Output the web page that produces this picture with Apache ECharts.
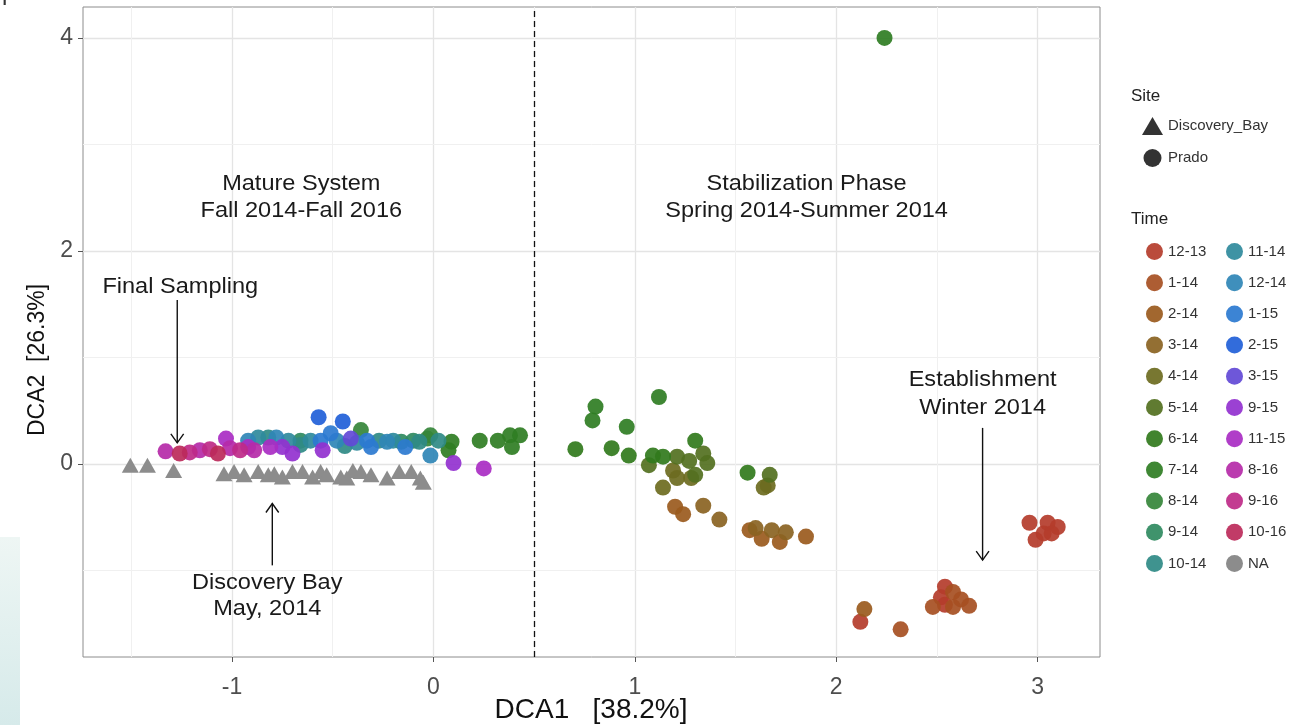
<!DOCTYPE html>
<html>
<head>
<meta charset="utf-8">
<script src="https://cdn.jsdelivr.net/npm/echarts@6/dist/echarts.min.js"></script>
<style>
  html, body { margin: 0; padding: 0; background: #ffffff; }
  #chart { width: 1297px; height: 725px; }
</style>
</head>
<body>
<div id="chart"></div>
<script>
// Sampling-time levels and their colours
const timeLevels = ['12-13', '1-14', '2-14', '3-14', '4-14', '5-14', '6-14', '7-14', '8-14', '9-14', '10-14',
                    '11-14', '12-14', '1-15', '2-15', '3-15', '9-15', '11-15', '8-16', '9-16', '10-16', 'NA'];
const timeColors = ['#b43c2b', '#a64f22', '#9a5a1d', '#8a6322', '#6d6b1f', '#52701f', '#317a1c', '#2f7d23',
                    '#358639', '#2f8a60', '#2f8a86', '#2f8a9c', '#2f86b6', '#2b7ad0', '#215fd8', '#6249d6',
                    '#9231cf', '#a92dc3', '#b52aa8', '#be2a88', '#bc2a5a', '#8c8c8c'];

// Prado samples: [DCA1, DCA2, time]
const prado = [
  // Stabilization phase
  [0.705, 0.14, '6-14'], [0.805, 0.54, '7-14'], [0.79, 0.41, '7-14'], [0.885, 0.15, '6-14'],
  [0.96, 0.35, '7-14'], [0.97, 0.08, '6-14'], [1.12, 0.63, '7-14'], [1.30, 0.22, '6-14'],
  [1.09, 0.08, '6-14'], [1.14, 0.07, '6-14'], [2.24, 4.00, '7-14'], [1.56, -0.08, '6-14'],
  [1.21, 0.07, '5-14'], [1.27, 0.03, '5-14'], [1.34, 0.10, '5-14'], [1.36, 0.01, '5-14'],
  [1.07, -0.01, '5-14'], [1.19, -0.06, '4-14'], [1.21, -0.13, '4-14'], [1.28, -0.13, '4-14'],
  [1.30, -0.10, '5-14'], [1.14, -0.22, '4-14'], [1.67, -0.10, '5-14'], [1.64, -0.22, '4-14'],
  [1.66, -0.20, '4-14'],
  [1.20, -0.40, '2-14'], [1.24, -0.47, '2-14'], [1.34, -0.39, '3-14'], [1.42, -0.52, '3-14'],
  [1.57, -0.62, '2-14'], [1.60, -0.60, '3-14'], [1.63, -0.70, '2-14'], [1.68, -0.62, '3-14'],
  [1.72, -0.73, '2-14'], [1.75, -0.64, '3-14'], [1.85, -0.68, '2-14'],
  // Establishment
  [2.96, -0.55, '12-13'], [3.05, -0.55, '12-13'], [3.10, -0.59, '12-13'], [3.03, -0.65, '12-13'],
  [2.99, -0.71, '12-13'], [3.07, -0.65, '12-13'],
  [2.54, -1.15, '12-13'], [2.58, -1.20, '1-14'], [2.52, -1.25, '12-13'], [2.48, -1.34, '1-14'],
  [2.58, -1.34, '1-14'], [2.62, -1.27, '1-14'], [2.66, -1.33, '1-14'], [2.54, -1.32, '12-13'],
  [2.14, -1.36, '2-14'], [2.12, -1.48, '12-13'], [2.32, -1.55, '1-14'],
  // Mature system
  [-0.92, 0.22, '12-14'], [-0.72, 0.22, '11-14'], [-0.66, 0.18, '10-14'], [-0.48, 0.22, '12-14'],
  [-0.44, 0.17, '10-14'], [-0.33, 0.22, '1-15'], [-0.20, 0.22, '11-14'], [-0.07, 0.21, '10-14'],
  [-0.87, 0.25, '11-14'], [-0.82, 0.25, '10-14'], [-0.78, 0.25, '12-14'], [-0.66, 0.22, '9-14'],
  [-0.61, 0.22, '11-14'], [-0.57, 0.44, '2-15'], [-0.56, 0.22, '1-15'], [-0.45, 0.40, '2-15'],
  [-0.51, 0.29, '1-15'], [-0.41, 0.24, '3-15'], [-0.36, 0.32, '8-14'], [-0.38, 0.20, '11-14'],
  [-0.31, 0.16, '1-15'], [-0.27, 0.22, '10-14'], [-0.23, 0.21, '12-14'], [-0.16, 0.21, '9-14'],
  [-0.14, 0.16, '1-15'], [-0.10, 0.22, '9-14'], [-0.03, 0.24, '8-14'], [-0.015, 0.27, '8-14'],
  [0.025, 0.22, '10-14'], [-0.015, 0.08, '12-14'], [0.09, 0.21, '7-14'], [0.075, 0.13, '7-14'],
  [0.23, 0.22, '7-14'], [0.32, 0.22, '7-14'], [0.38, 0.27, '7-14'], [0.39, 0.16, '7-14'],
  [0.43, 0.27, '7-14'],
  [-0.75, 0.16, '9-15'], [-0.70, 0.10, '9-15'], [-0.55, 0.13, '9-15'], [0.10, 0.01, '9-15'],
  [-1.03, 0.24, '11-15'], [-0.92, 0.16, '11-15'], [-0.81, 0.16, '11-15'], [0.25, -0.04, '11-15'],
  [-1.33, 0.12, '8-16'], [-1.16, 0.13, '8-16'], [-1.01, 0.15, '8-16'], [-0.89, 0.13, '8-16'],
  [-1.21, 0.11, '9-16'], [-1.11, 0.14, '9-16'], [-0.96, 0.13, '9-16'],
  [-1.26, 0.10, '10-16'], [-1.07, 0.10, '10-16']
];

// Discovery Bay samples (no time assigned): [DCA1, DCA2]
const discoveryBay = [
  [-1.505, -0.01], [-1.42, -0.01], [-1.29, -0.06], [-1.04, -0.09], [-0.99, -0.07], [-0.94, -0.10],
  [-0.87, -0.07], [-0.82, -0.10], [-0.79, -0.09], [-0.75, -0.12], [-0.70, -0.07], [-0.65, -0.07],
  [-0.60, -0.12], [-0.56, -0.07], [-0.53, -0.10], [-0.46, -0.12], [-0.43, -0.13], [-0.40, -0.06],
  [-0.36, -0.07], [-0.31, -0.10], [-0.23, -0.13], [-0.17, -0.07], [-0.11, -0.07], [-0.065, -0.13],
  [-0.05, -0.17]
];

// Axis ticks and grid
const xTicks = [-1, 0, 1, 2, 3];
const yTicks = [0, 2, 4];
const xMinorGrid = [-1.5, -0.5, 0.5, 1.5, 2.5];
const yMinorGrid = [-1, 1, 3];
const phaseBoundary = 0.5;

// Annotations, in data units
const noteText = ['Mature System', 'Fall 2014-Fall 2016', 'Stabilization Phase', 'Spring 2014-Summer 2014',
                  'Final Sampling', 'Discovery Bay', 'May, 2014', 'Establishment', 'Winter 2014'];
const noteX = [-0.656, -0.656, 1.853, 1.853, -1.257, -0.825, -0.825, 2.727, 2.727];
const noteY = [2.63, 2.38, 2.63, 2.38, 1.66, -1.115, -1.36, 0.79, 0.53];
// Arrows: [fromX, fromY, toX, toY]
const arrows = [
  [-1.272, 1.54, -1.272, 0.20],
  [-0.80, -0.95, -0.80, -0.37],
  [2.727, 0.34, 2.727, -0.90]
];

const SANS = '"Liberation Sans", Arial, Helvetica, sans-serif';

const chart = echarts.init(document.getElementById('chart'), null, { renderer: 'canvas' });

const gridLines = [];
xTicks.forEach(v => gridLines.push({ xAxis: v, lineStyle: { color: '#e4e4e4', width: 1.3, type: 'solid' } }));
yTicks.forEach(v => gridLines.push({ yAxis: v, lineStyle: { color: '#e4e4e4', width: 1.3, type: 'solid' } }));
xMinorGrid.forEach(v => gridLines.push({ xAxis: v, lineStyle: { color: '#f0f0f0', width: 1, type: 'solid' } }));
yMinorGrid.forEach(v => gridLines.push({ yAxis: v, lineStyle: { color: '#f0f0f0', width: 1, type: 'solid' } }));

const series = [];

// background grid
series.push({
  type: 'scatter', name: '__grid', data: [], silent: true, z: 0,
  markLine: { silent: true, z: 0, symbol: ['none', 'none'], label: { show: false }, animation: false, data: gridLines }
});

// Prado samples by time
timeLevels.forEach((lvl, i) => {
  if (lvl === 'NA') return;
  series.push({
    type: 'scatter', name: lvl, symbol: 'circle', symbolSize: 16, z: 3,
    itemStyle: { color: timeColors[i], opacity: 0.92 },
    data: prado.filter(p => p[2] === lvl).map(p => [p[0], p[1]])
  });
});

// Discovery Bay samples
series.push({
  type: 'scatter', name: 'NA', symbol: 'triangle', symbolSize: [17, 15], z: 2,
  itemStyle: { color: timeColors[timeLevels.indexOf('NA')], opacity: 1 },
  data: discoveryBay
});

// site legend entries
series.push({ type: 'scatter', name: 'Discovery_Bay', symbol: 'triangle', itemStyle: { color: '#000' }, data: [] });
series.push({ type: 'scatter', name: 'Prado', symbol: 'circle', itemStyle: { color: '#000' }, data: [] });

// phase boundary
series.push({
  type: 'scatter', name: '__boundary', data: [], silent: true, z: 4,
  markLine: {
    silent: true, z: 4, symbol: ['none', 'none'], label: { show: false }, animation: false,
    lineStyle: { color: '#111', width: 1.3, type: [6, 4] },
    data: [{ xAxis: phaseBoundary }]
  }
});

// annotation text
series.push({
  type: 'custom', name: '__notes', coordinateSystem: 'cartesian2d', silent: true, z: 6, clip: false,
  data: noteText.map((t, i) => [noteX[i], noteY[i], i]),
  renderItem(params, api) {
    const p = api.coord([api.value(0), api.value(1)]);
    return {
      type: 'text', x: p[0], y: p[1], scaleX: 1.07,
      style: { text: noteText[api.value(2)], fill: '#1a1a1a', fontSize: 22, fontFamily: SANS,
               align: 'center', verticalAlign: 'middle' }
    };
  }
});

// annotation arrows
series.push({
  type: 'custom', name: '__arrows', coordinateSystem: 'cartesian2d', silent: true, z: 6, clip: false,
  data: arrows,
  renderItem(params, api) {
    const a = api.coord([api.value(0), api.value(1)]);
    const b = api.coord([api.value(2), api.value(3)]);
    const ang = Math.atan2(b[1] - a[1], b[0] - a[0]);
    const L = 11, w = 0.62;
    const h1 = [b[0] - L * Math.cos(ang - w), b[1] - L * Math.sin(ang - w)];
    const h2 = [b[0] - L * Math.cos(ang + w), b[1] - L * Math.sin(ang + w)];
    return {
      type: 'group',
      children: [
        { type: 'line', shape: { x1: a[0], y1: a[1], x2: b[0], y2: b[1] }, style: { stroke: '#111', lineWidth: 1.4 } },
        { type: 'polyline', shape: { points: [h1, b, h2] }, style: { stroke: '#111', lineWidth: 1.4, fill: null } }
      ]
    };
  }
});

const legendText = { color: '#333', fontSize: 15, fontFamily: SANS, padding: [0, 0, 0, 0] };

const option = {
  animation: false,
  backgroundColor: '#ffffff',
  grid: { left: 83, top: 7, right: 197, bottom: 68, show: true, borderColor: '#8c8c8c', borderWidth: 1, containLabel: false },
  xAxis: {
    type: 'value', min: -1.74, max: 3.31,
    axisLine: { show: false, onZero: false },
    splitLine: { show: false },
    axisTick: { show: true, customValues: xTicks, length: 5, lineStyle: { color: '#555' } },
    axisLabel: { customValues: xTicks, color: '#4d4d4d', fontSize: 23, fontFamily: SANS, margin: 19 }
  },
  yAxis: {
    type: 'value', min: -1.81, max: 4.29,
    axisLine: { show: false, onZero: false },
    splitLine: { show: false },
    axisTick: { show: true, customValues: yTicks, length: 5, lineStyle: { color: '#555' } },
    axisLabel: { customValues: yTicks, color: '#4d4d4d', fontSize: 23, fontFamily: SANS, margin: 10 }
  },
  legend: [
    {
      orient: 'vertical', left: 1137, top: 112, itemWidth: 21, itemHeight: 18, itemGap: 14,
      selectedMode: false, textStyle: legendText,
      data: [{ name: 'Discovery_Bay', icon: 'triangle' }, { name: 'Prado', icon: 'circle' }]
    },
    {
      orient: 'vertical', left: 1141, top: 238, itemWidth: 17, itemHeight: 17, itemGap: 14.2,
      selectedMode: false, textStyle: legendText,
      data: timeLevels.slice(0, 11).map(n => ({ name: n, icon: 'circle' }))
    },
    {
      orient: 'vertical', left: 1221, top: 238, itemWidth: 17, itemHeight: 17, itemGap: 14.2,
      selectedMode: false, textStyle: legendText,
      data: timeLevels.slice(11).map(n => ({ name: n, icon: 'circle' }))
    }
  ],
  graphic: [
    {
      type: 'rect', left: 0, top: 537, silent: true, z: -1,
      shape: { width: 20, height: 188 },
      style: { fill: new echarts.graphic.LinearGradient(0, 0, 0, 1, [
        { offset: 0, color: '#eef6f4' }, { offset: 1, color: '#d6eaea' }]) }
    },
    { type: 'text', left: 2, top: -19, silent: true, style: { text: 'p', fontSize: 24, fontFamily: SANS, fill: '#333' } },
    { type: 'text', left: 1131, top: 88, silent: true, style: { text: 'Site', fontSize: 17, fontFamily: SANS, fill: '#222' } },
    { type: 'text', left: 1131, top: 211, silent: true, style: { text: 'Time', fontSize: 17, fontFamily: SANS, fill: '#222' } },
    {
      type: 'text', x: 591, y: 710, silent: true,
      style: { text: 'DCA1   [38.2%]', fontSize: 28, fontFamily: SANS, fill: '#111', align: 'center', verticalAlign: 'middle' }
    },
    {
      type: 'text', x: 38, y: 360, rotation: Math.PI / 2, silent: true,
      style: { text: 'DCA2  [26.3%]', fontSize: 23, fontFamily: SANS, fill: '#111', align: 'center', verticalAlign: 'middle' }
    }
  ],
  series: series
};

chart.setOption(option);
</script>
</body>
</html>
